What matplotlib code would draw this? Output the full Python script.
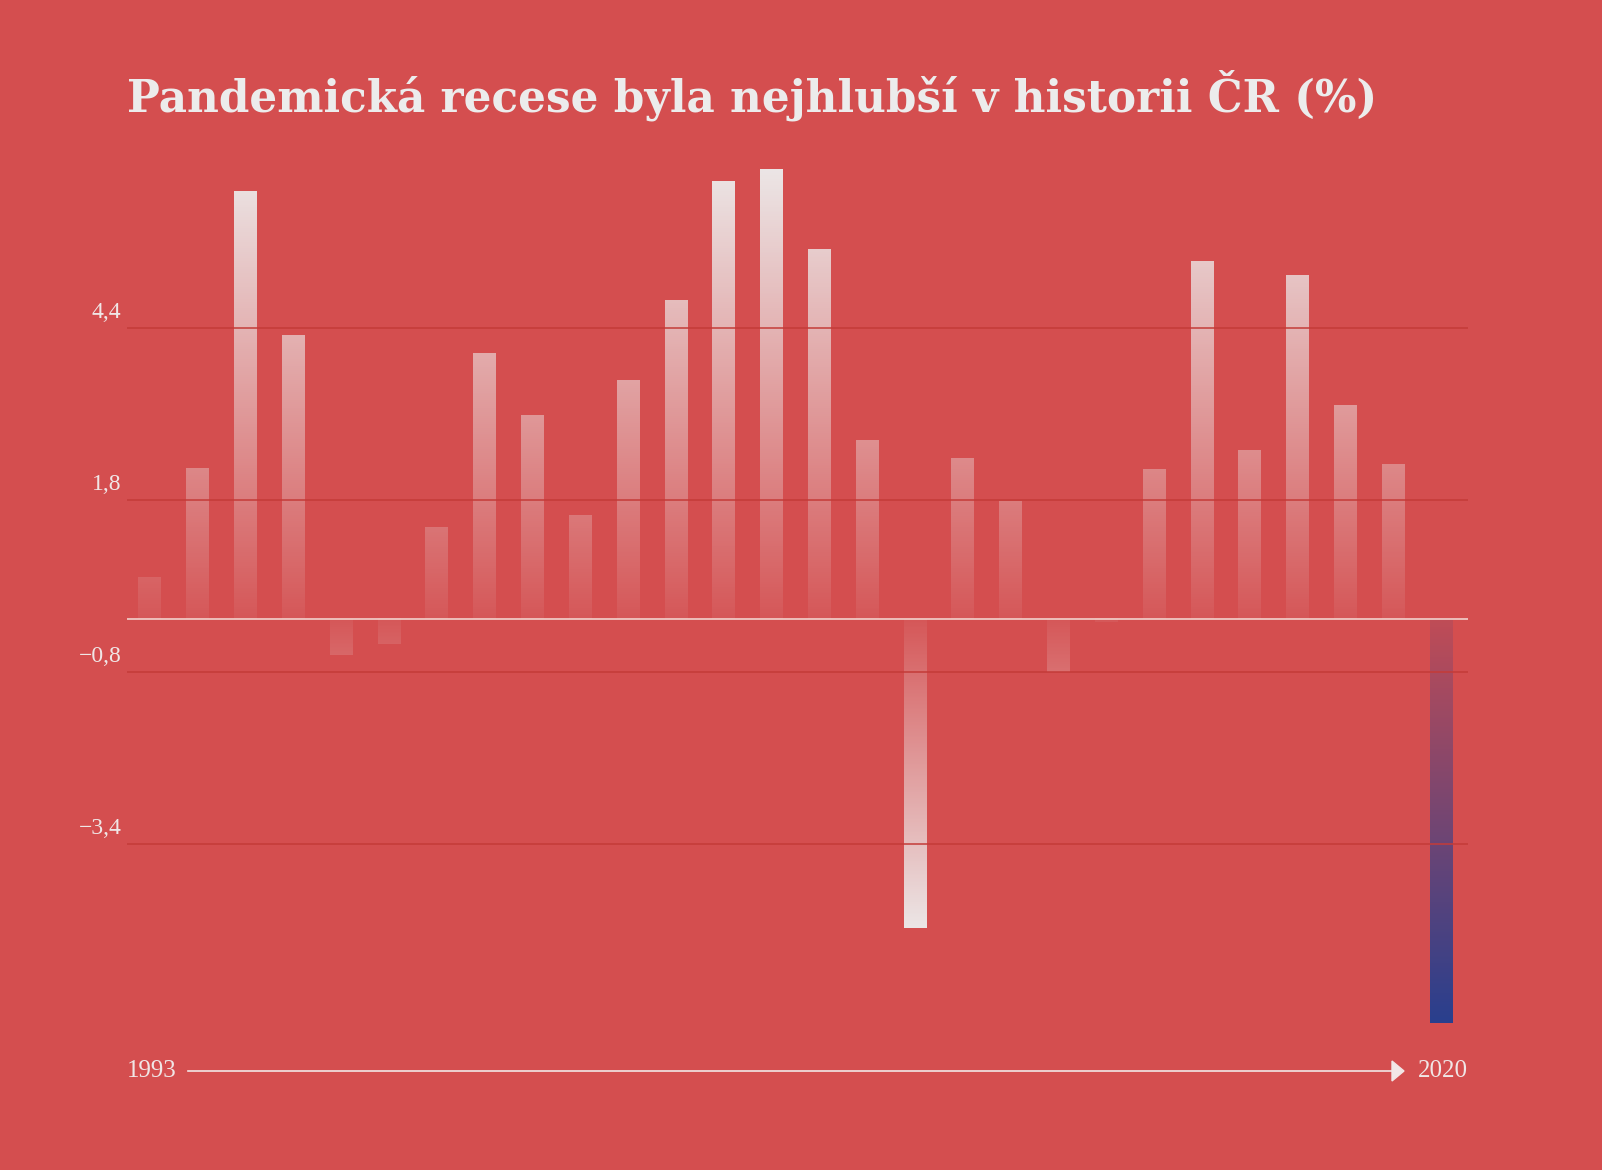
import numpy as np
import matplotlib.pyplot as plt

years = list(range(1993, 2021))
growth = [0.63, 2.28, 6.47, 4.28, -0.54, -0.38, 1.39, 4.02, 3.07, 1.57,
          3.6, 4.82, 6.62, 6.8, 5.59, 2.7, -4.67, 2.43, 1.77, -0.8,
          -0.05, 2.26, 5.41, 2.55, 5.2, 3.22, 2.33, -6.11]
tick_values = [4.4, 1.8, -0.8, -3.4]
tick_labels = ['4,4', '1,8', '\u22120,8', '\u22123,4']
title = 'Pandemická recese byla nejhlubší v historii ČR (%)'

bg = '#d44e4f'
white = np.array([0.93, 0.93, 0.93])
blue = np.array([0.16, 0.25, 0.56])

fig = plt.figure(figsize=(16.02, 11.70), dpi=100, facecolor=bg)
ax = fig.add_axes([127 / 1602, 1 - 1040 / 1170, (1468 - 127) / 1602, (1040 - 150) / 1170])
ax.set_facecolor(bg)
ax.set_xlim(-0.48, len(years) - 1 + 0.56)
ax.set_ylim((619 - 1040) / 66.15, (619 - 150) / 66.15)

pos_max = max(growth)
neg_max = -min(g for g in growth[:-1])
w = 0.48
n = 256
for i, v in enumerate(growth):
    lo, hi = min(0, v), max(0, v)
    ys = np.linspace(lo, hi, n)
    img = np.zeros((n, 1, 4))
    if i == len(growth) - 1:
        # last bar: red-ish to blue gradient
        t = np.abs(ys) / abs(v)
        img[:, 0, :3] = blue
        img[:, 0, 3] = 0.12 + 0.88 * t
    else:
        m = pos_max if v > 0 else neg_max
        img[:, 0, :3] = white
        img[:, 0, 3] = np.clip(0.06 + 0.9 * np.abs(ys) / m, 0, 1)
    ax.imshow(img, origin='lower', extent=(i - w / 2, i + w / 2, lo, hi),
              aspect='auto', interpolation='bilinear', zorder=2)

for tv, tl in zip(tick_values, tick_labels):
    ax.axhline(tv, color='#c43b38', lw=1.1, zorder=3)
    ax.text(-0.6, tv + 0.24, tl, ha='right', va='center', fontsize=17,
            family='Liberation Serif', color='#f0e6e6')
ax.axhline(0, color='#f2d2cc', lw=1.2, zorder=4)

for s in ax.spines.values():
    s.set_visible(False)
ax.set_xticks([])
ax.set_yticks([])

fig.text(127 / 1602, 1 - 95 / 1170, title, ha='left', va='center',
         fontsize=31.5, fontweight='bold', family='DejaVu Serif', color='#ececec')

ya = 1 - 1071 / 1170
fig.text(127 / 1602, ya, str(years[0]), ha='left', va='center', fontsize=18,
         family='Liberation Serif', color='#f0e6e6')
fig.text(1468 / 1602, ya, str(years[-1]), ha='right', va='center', fontsize=18,
         family='Liberation Serif', color='#f0e6e6')
fig.add_artist(plt.Line2D([188 / 1602, 1395 / 1602], [ya, ya], color='#f2e6e6', lw=1.2))
fig.add_artist(plt.Polygon([[1392 / 1602, ya + 10 / 1170], [1392 / 1602, ya - 10 / 1170],
                            [1404 / 1602, ya]], closed=True, color='#f2e6e6'))

fig.savefig('out.png', dpi=100, facecolor=bg)
